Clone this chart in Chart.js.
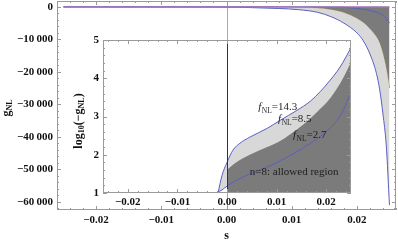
<!DOCTYPE html>
<html>
<head>
<meta charset="utf-8">
<script src="https://cdn.jsdelivr.net/npm/chart.js@4.4.1/dist/chart.umd.min.js"></script>
<style>
  html, body { margin: 0; padding: 0; background: #fff; }
  #wrap { position: relative; width: 398px; height: 244px; }
  #wrap canvas { position: absolute; left: 0; top: 0; }
</style>
</head>
<body>
<div id="wrap">
  <canvas id="outer" width="398" height="244"></canvas>
  <canvas id="inner" width="398" height="244"></canvas>
</div>
<script>
// --- outer panel: g_NL against s ---
const sOuter = [-0.025, 0, 0.004, 0.008, 0.011, 0.014, 0.016, 0.018, 0.020, 0.021, 0.022, 0.023, 0.0235, 0.024, 0.0245, 0.025];
const gZero = [0, 0, 0, 0, 0, 0, 0, 0, 0, 0, 0, 0, 0, 0, 0, 0];
const gF143 = [0, -60, -250, -500, -850, -1700, -3000, -5000, -8000, -10500, -14500, -20500, -25500, -33000, -42500, -61000];
const gF85 = [0, -5, -20, -60, -150, -450, -900, -1800, -3600, -4900, -6800, -9300, -11300, -14500, -19000, -25000];
const gF27 = [0, 0, -5, -10, -20, -40, -70, -150, -500, -750, -1100, -1600, -2000, -2700, -3500, -5000];
const outerYTicks = [0, -10000, -20000, -30000, -40000, -50000, -60000];
const outerYLabels = ['0', '\u221210\u2009000', '\u221220\u2009000', '\u221230\u2009000', '\u221240\u2009000', '\u221250\u2009000', '\u221260\u2009000'];
const xTicks = [-0.02, -0.01, 0, 0.01, 0.02];
const xLabels = ['\u22120.02', '\u22120.01', '0.00', '0.01', '0.02'];

// --- inset: log10(-g_NL) against s ---
const sInner = [-0.0021, -0.0018, -0.001, 0, 0.0012, 0.0026, 0.0046, 0.0081, 0.0107, 0.0141, 0.0168, 0.0188, 0.0208, 0.0222, 0.0234, 0.025];
const logF143 = [0.8, 1.0, 1.46, 1.80, 2.12, 2.30, 2.46, 2.69, 2.90, 3.16, 3.40, 3.65, 3.95, 4.18, 4.42, 4.80];
const logF85 = [null, null, null, 1.60, 1.74, 1.86, 2.00, 2.20, 2.36, 2.66, 2.95, 3.20, 3.48, 3.74, 4.00, 4.42];
const logF27 = [1.0, 1.03, 1.08, 1.18, 1.28, 1.38, 1.50, 1.68, 1.84, 2.08, 2.30, 2.48, 2.70, 2.90, 3.15, 3.66];
const innerYTicks = [1, 2, 3, 4, 5];
const innerYLabels = ['1', '2', '3', '4', '5'];
const notes = [
  { s: 0.0063, v: 3.16, sub: '14.3' },
  { s: 0.0103, v: 2.85, sub: '8.5' },
  { s: 0.0133, v: 2.43, sub: '2.7' }
];
const regionNote = { s: 0.0046, v: 1.46, text: 'n=8: allowed region' };

const BLUE = '#5b5fc0';
const OLIVE = '#a88f4a';
const DARK = '#7b7b7b';
const LIGHT = '#d8d8d8';
const SERIF = '"Liberation Serif", "DejaVu Serif", serif';

const pts = (xs, ys) => xs.map((x, i) => ({ x: x, y: ys[i] }));

// frame with inward ticks, Mathematica style
function frameTicks(xStep, xMinorN, yStep, yMinorN) {
  return {
    id: 'frameTicks',
    afterDatasetsDraw(chart) {
      const { ctx, chartArea: a, scales } = chart;
      const sx = scales.x, sy = scales.y;
      ctx.save();
      ctx.strokeStyle = '#9a9a9a';
      ctx.lineWidth = 1;
      ctx.strokeRect(a.left + 0.5, a.top + 0.5, a.right - a.left - 1, a.bottom - a.top - 1);
      ctx.beginPath();
      const xm = xStep / xMinorN;
      for (let k = Math.ceil(sx.min / xm); k * xm <= sx.max + 1e-12; k++) {
        const len = k % xMinorN === 0 ? 4 : 2;
        const px = Math.round(sx.getPixelForValue(k * xm)) + 0.5;
        ctx.moveTo(px, a.bottom); ctx.lineTo(px, a.bottom - len);
        ctx.moveTo(px, a.top); ctx.lineTo(px, a.top + len);
      }
      const ym = yStep / yMinorN;
      for (let k = Math.ceil(sy.min / ym); k * ym <= sy.max + 1e-9; k++) {
        const len = k % yMinorN === 0 ? 4 : 2;
        const py = Math.round(sy.getPixelForValue(k * ym)) + 0.5;
        ctx.moveTo(a.left, py); ctx.lineTo(a.left + len, py);
        ctx.moveTo(a.right, py); ctx.lineTo(a.right - len, py);
      }
      ctx.stroke();
      ctx.restore();
    }
  };
}

function zeroLine(color, onTop) {
  const draw = (chart) => {
    const { ctx, chartArea: a, scales } = chart;
    const px = Math.round(scales.x.getPixelForValue(0)) + 0.5;
    ctx.save();
    ctx.strokeStyle = color;
    ctx.lineWidth = 1;
    ctx.beginPath();
    ctx.moveTo(px, a.top); ctx.lineTo(px, a.bottom);
    ctx.stroke();
    ctx.restore();
  };
  return onTop ? { id: 'zeroLine', afterDatasetsDraw: draw } : { id: 'zeroLine', beforeDatasetsDraw: draw };
}

const whiteArea = {
  id: 'whiteArea',
  beforeDatasetsDraw(chart) {
    const { ctx, chartArea: a } = chart;
    ctx.save();
    ctx.fillStyle = '#fff';
    ctx.fillRect(a.left, a.top, a.right - a.left, a.bottom - a.top);
    ctx.restore();
  }
};

// f_NL=... labels inside the inset
const insetText = {
  id: 'insetText',
  afterDraw(chart) {
    const { ctx, scales: { x, y } } = chart;
    ctx.save();
    ctx.fillStyle = '#1e1e1e';
    ctx.textBaseline = 'alphabetic';
    notes.forEach(n => {
      let px = x.getPixelForValue(n.s);
      const py = y.getPixelForValue(n.v);
      ctx.font = 'italic 11px ' + SERIF;
      ctx.fillText('f', px, py);
      px += ctx.measureText('f').width + 0.5;
      ctx.font = '7.5px ' + SERIF;
      ctx.fillText('NL', px, py + 2.5);
      px += ctx.measureText('NL').width;
      ctx.font = '11px ' + SERIF;
      ctx.fillText('=' + n.sub, px, py);
    });
    ctx.font = '11px ' + SERIF;
    ctx.fillText(regionNote.text, x.getPixelForValue(regionNote.s), y.getPixelForValue(regionNote.v));
    ctx.restore();
  }
};

// rotated axis titles and the "s" label
const outerTitles = {
  id: 'outerTitles',
  afterDraw(chart) {
    const { ctx } = chart;
    ctx.save();
    ctx.fillStyle = '#111';
    ctx.textBaseline = 'middle';
    ctx.font = 'bold 12px ' + SERIF;
    ctx.textAlign = 'center';
    ctx.fillText('s', chart.scales.x.getPixelForValue(0), 236);
    ctx.translate(8, 108);
    ctx.rotate(-Math.PI / 2);
    ctx.textAlign = 'left';
    ctx.font = 'bold 12px ' + SERIF;
    const w1 = ctx.measureText('g').width;
    ctx.font = 'bold 8px ' + SERIF;
    const w2 = ctx.measureText('NL').width;
    const px = -(w1 + w2) / 2;
    ctx.font = 'bold 12px ' + SERIF;
    ctx.fillText('g', px, -1);
    ctx.font = 'bold 8px ' + SERIF;
    ctx.fillText('NL', px + w1, 2);
    ctx.restore();
  }
};

const innerTitle = {
  id: 'innerTitle',
  afterDraw(chart) {
    const { ctx } = chart;
    ctx.save();
    ctx.fillStyle = '#111';
    ctx.textBaseline = 'middle';
    ctx.translate(79, 121);
    ctx.rotate(-Math.PI / 2);
    const parts = [
      { t: 'log', f: 'bold 12px ', dy: 0 },
      { t: '10', f: 'bold 8px ', dy: 3 },
      { t: '(\u2212g', f: 'bold 12px ', dy: 0 },
      { t: 'NL', f: 'bold 8px ', dy: 3 },
      { t: ')', f: 'bold 12px ', dy: 0 }
    ];
    let total = 0;
    parts.forEach(p => { ctx.font = p.f + SERIF; p.w = ctx.measureText(p.t).width; total += p.w; });
    let px = -total / 2;
    parts.forEach(p => { ctx.font = p.f + SERIF; ctx.fillText(p.t, px, p.dy); px += p.w; });
    ctx.restore();
  }
};

const tickFont = { family: SERIF, size: 11, weight: 'bold' };
const noPad = s => { s.paddingTop = 0; s.paddingBottom = 0; s.paddingLeft = 0; s.paddingRight = 0; };

new Chart(document.getElementById('outer'), {
  type: 'line',
  data: {
    datasets: [
      { data: pts(sOuter, gZero), borderColor: '#a87ab8', borderWidth: 1.3, pointRadius: 0, fill: false, order: 0 },
      { data: pts(sOuter, gF85), borderColor: OLIVE, borderWidth: 1, pointRadius: 0, fill: 0, backgroundColor: DARK, cubicInterpolationMode: 'monotone', order: 3 },
      { data: pts(sOuter, gF143), borderColor: BLUE, borderWidth: 1, pointRadius: 0, fill: 1, backgroundColor: LIGHT, cubicInterpolationMode: 'monotone', order: 2 },
      { data: pts(sOuter, gF27), borderColor: BLUE, borderWidth: 1, pointRadius: 0, fill: false, cubicInterpolationMode: 'monotone', order: 1 }
    ]
  },
  options: {
    responsive: false,
    animation: false,
    devicePixelRatio: 1,
    layout: { padding: { left: 0, top: 1, right: 2, bottom: 0 } },
    plugins: { legend: { display: false }, tooltip: { enabled: false } },
    scales: {
      x: {
        type: 'linear', min: -0.026, max: 0.026,
        grid: { display: false, drawTicks: false }, border: { display: false },
        afterBuildTicks: s => { s.ticks = xTicks.map(v => ({ value: v })); },
        afterFit: s => { s.height = 34; noPad(s); },
        ticks: { color: '#111', font: tickFont, padding: 4, maxRotation: 0, autoSkip: false,
          callback: (v, i) => xLabels[i] }
      },
      y: {
        type: 'linear', min: -62500, max: 1800,
        grid: { display: false, drawTicks: false }, border: { display: false },
        afterBuildTicks: s => { s.ticks = outerYTicks.map(v => ({ value: v })); },
        afterFit: s => { s.width = 57; noPad(s); },
        ticks: { color: '#111', font: tickFont, padding: 4, autoSkip: false,
          callback: (v, i) => outerYLabels[i] }
      }
    }
  },
  plugins: [zeroLine('#a8a8a8', false), frameTicks(0.01, 5, 10000, 5), outerTitles]
});

new Chart(document.getElementById('inner'), {
  type: 'line',
  data: {
    datasets: [
      { data: pts(sInner, logF143), borderColor: BLUE, borderWidth: 1, pointRadius: 0, fill: 2, backgroundColor: LIGHT, cubicInterpolationMode: 'monotone', order: 3 },
      { data: pts(sInner, logF85), borderColor: 'rgba(0,0,0,0)', borderWidth: 0, pointRadius: 0, fill: 'start', backgroundColor: DARK, cubicInterpolationMode: 'monotone', order: 2 },
      { data: pts(sInner, logF27), borderColor: BLUE, borderWidth: 1, pointRadius: 0, fill: false, cubicInterpolationMode: 'monotone', order: 1 }
    ]
  },
  options: {
    responsive: false,
    animation: false,
    devicePixelRatio: 1,
    layout: { padding: { left: 60, top: 40, right: 47, bottom: 20 } },
    plugins: { legend: { display: false }, tooltip: { enabled: false } },
    scales: {
      x: {
        type: 'linear', min: -0.025, max: 0.025,
        grid: { display: false, drawTicks: false }, border: { display: false },
        afterBuildTicks: s => { s.ticks = xTicks.map(v => ({ value: v })); },
        afterFit: s => { s.height = 31; noPad(s); },
        ticks: { color: '#111', font: tickFont, padding: 3, maxRotation: 0, autoSkip: false,
          callback: (v, i) => xLabels[i] }
      },
      y: {
        type: 'linear', min: 1, max: 5,
        grid: { display: false, drawTicks: false }, border: { display: false },
        afterBuildTicks: s => { s.ticks = innerYTicks.map(v => ({ value: v })); },
        afterFit: s => { s.width = 43; noPad(s); },
        ticks: { color: '#111', font: tickFont, padding: 4, autoSkip: false,
          callback: (v, i) => innerYLabels[i] }
      }
    }
  },
  plugins: [whiteArea, zeroLine('#333', true), frameTicks(0.01, 5, 1, 5), innerTitle, insetText]
});
</script>
</body>
</html>
